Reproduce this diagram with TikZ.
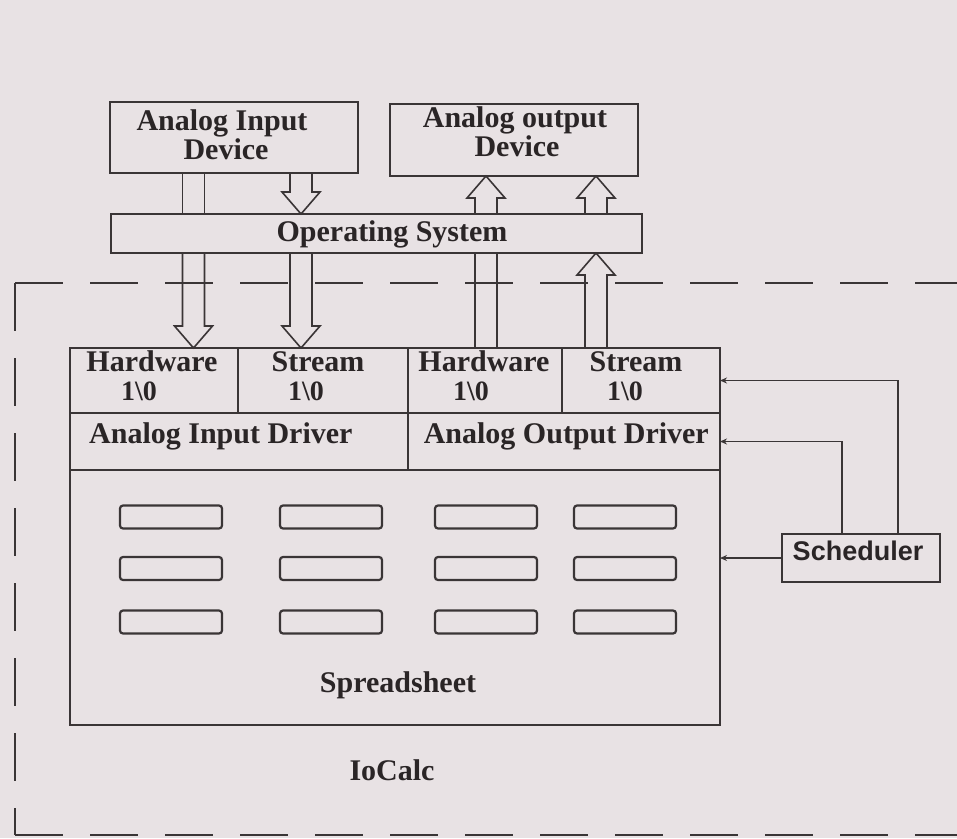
\documentclass[tikz,border=0pt]{standalone}
\usepackage{fontspec}
\setmainfont{Liberation Serif}
\newfontfamily\schedfont{Liberation Sans}
\usetikzlibrary{calc,arrows.meta}
\definecolor{bgc}{HTML}{E8E2E4}
\definecolor{ln}{HTML}{3A3536}
\definecolor{tx}{HTML}{2A2526}
% hollow arrows: #1 x-coordinate, #2 start anchor, #3 tip anchor
\newcommand\hdown[3]{\draw[hol] let \p1=(#2 -| #1), \p2=(#3 -| #1) in
  (\x1-11pt,\y1) -- (\x1-11pt,\y2+22pt) -- (\x1-19pt,\y2+22pt) -- (\x2,\y2)
  -- (\x1+19pt,\y2+22pt) -- (\x1+11pt,\y2+22pt) -- (\x1+11pt,\y1);}
\newcommand\hup[3]{\draw[hol] let \p1=(#2 -| #1), \p2=(#3 -| #1) in
  (\x1-11pt,\y1) -- (\x1-11pt,\y2-22pt) -- (\x1-19pt,\y2-22pt) -- (\x2,\y2)
  -- (\x1+19pt,\y2-22pt) -- (\x1+11pt,\y2-22pt) -- (\x1+11pt,\y1);}
\newcommand\hshaft[3]{\draw[hol] let \p1=(#2 -| #1), \p2=(#3 -| #1) in
  (\x1-11pt,\y1) -- (\x1-11pt,\y2) (\x1+11pt,\y1) -- (\x1+11pt,\y2);}
\begin{document}
\begin{tikzpicture}[x=1pt,y=-1pt,
  box/.style={draw=ln,line width=1.7pt,inner sep=0pt,outer sep=0pt},
  lbl/.style={font=\fontsize{30}{30}\selectfont\bfseries,text=tx,inner sep=0pt,anchor=base},
  io/.style={lbl,font=\fontsize{28}{28}\selectfont\bfseries},
  hol/.style={draw=ln,line width=1.6pt,line join=miter},
  minicell/.style={draw=ln,line width=2.2pt,rounded corners=3pt,minimum width=102pt,minimum height=23pt,inner sep=0pt},
  conn/.style={draw=ln,line width=1.6pt,-{Stealth[length=7pt,width=6pt]}},
  framedash/.style={draw=ln,line width=2.2pt,dash pattern=on 48pt off 27pt}]
\fill[bgc] (0,0) rectangle (957,838);
\useasboundingbox (0,0) rectangle (957,838);

% x positions of the hollow arrows and scheduler links
\coordinate (a1) at (193.5,0);
\coordinate (a2) at (301,0);
\coordinate (a3) at (486,0);
\coordinate (a4) at (596,0);
\coordinate (sx1) at (898,0);
\coordinate (sx2) at (842,0);

% top boxes
\node[box,minimum width=248pt,minimum height=71pt] (aid) at (234,137.5) {};
\node[lbl] (aidT1) at (222,130) {Analog Input};
\node[lbl] (aidT2) at (226,159) {Device};
\node[box,minimum width=248pt,minimum height=72pt] (aod) at (514,140) {};
\node[lbl] (aodT1) at (515,127) {Analog output};
\node[lbl] (aodT2) at (517,156) {Device};
\node[box,minimum width=531pt,minimum height=39pt] (os) at (376.5,233.5) {};
\node[lbl] (osT) at (392,241) {Operating System};

% IoCalc block
\node[box,minimum width=168pt,minimum height=65pt] (hw1) at (154,380.5) {};
\node[box,minimum width=170pt,minimum height=65pt] (st1) at (323,380.5) {};
\node[box,minimum width=154pt,minimum height=65pt] (hw2) at (485,380.5) {};
\node[box,minimum width=158pt,minimum height=65pt] (st2) at (641,380.5) {};
\node[lbl] (hw1T1) at (152,371) {Hardware};
\node[io] (hw1T2) at (139,400) {1\textbackslash 0};
\node[lbl] (st1T1) at (318,371) {Stream};
\node[io] (st1T2) at (306,400) {1\textbackslash 0};
\node[lbl] (hw2T1) at (484,371) {Hardware};
\node[io] (hw2T2) at (471,400) {1\textbackslash 0};
\node[lbl] (st2T1) at (636,371) {Stream};
\node[io] (st2T2) at (625,400) {1\textbackslash 0};

\node[box,minimum width=338pt,minimum height=57pt] (aidrv) at (239,441.5) {};
\node[box,minimum width=312pt,minimum height=57pt] (aodrv) at (564,441.5) {};
\node[lbl,anchor=base west] (aidrvT) at (89,443) {Analog Input Driver};
\node[lbl,anchor=base east] (aodrvT) at (709,443) {Analog Output Driver};

\node[box,minimum width=650pt,minimum height=255pt] (sheet) at (395,597.5) {};
\foreach \c/\cx in {1/171,2/331,3/486,4/625}
  \foreach \r/\ry in {1/517,2/568.5,3/622}
    \node[minicell] (r\c\r) at (\cx,\ry) {};
\node[lbl] (sheetT) at (398,692) {Spreadsheet};
\node[lbl] (iocT) at (392,780) {IoCalc};

% scheduler
\node[draw=ln,line width=1.7pt,inner sep=0pt,minimum width=158pt,minimum height=48pt] (sched) at (861,558) {};
\node[font=\fontsize{27}{27}\selectfont\schedfont\bfseries,text=tx,inner sep=0pt,anchor=base] (schedT) at (858,560) {Scheduler};
\draw[conn] (sched.north -| sx1) |- (st2.east);
\draw[conn] (sched.north -| sx2) |- (aodrv.east);
\draw[conn] (sched.west) -- (sched.west -| sheet.east);

% hollow arrows
\hshaft{a1}{aid.south}{os.north}
\hdown{a1}{os.south}{hw1.north}
\hdown{a2}{aid.south}{os.north}
\hdown{a2}{os.south}{st1.north}
\hshaft{a3}{hw2.north}{os.south}
\hup{a3}{os.north}{aod.south}
\hup{a4}{st2.north}{os.south}
\hup{a4}{os.north}{aod.south}

% dashed boundary
\draw[framedash] (15,283) -- (957,283);
\draw[framedash] (15,283) -- (15,835);
\draw[framedash] (15,835) -- (957,835);
\end{tikzpicture}
\end{document}
